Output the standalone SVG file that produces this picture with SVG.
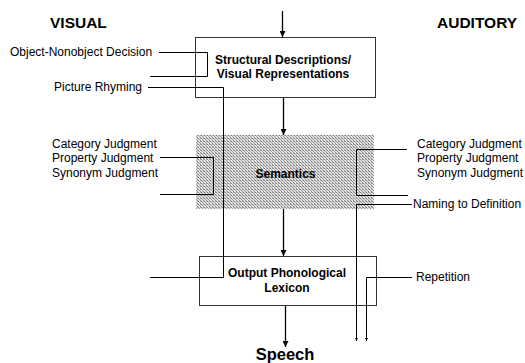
<svg xmlns="http://www.w3.org/2000/svg" width="525" height="363" viewBox="0 0 525 363">
<defs>
<pattern id="halftone" width="3" height="3" patternUnits="userSpaceOnUse">
<rect width="3" height="3" fill="#e4e4e4"/>
<rect x="0" y="0" width="1" height="1" fill="#7a7a7a"/>
<rect x="1" y="1" width="1" height="1" fill="#9a9a9a"/>
<rect x="2" y="2" width="1" height="1" fill="#8a8a8a"/>
<rect x="2" y="0" width="1" height="1" fill="#b0b0b0"/>
</pattern>
<marker id="arr" viewBox="0 0 8 8" refX="8" refY="4" markerWidth="6" markerHeight="6" markerUnits="userSpaceOnUse" orient="auto">
<path d="M0,0 L8,4 L0,8 Z" fill="#000"/>
</marker>
<marker id="tick" viewBox="0 0 6 6" refX="6" refY="3" markerWidth="3" markerHeight="3" markerUnits="userSpaceOnUse" orient="auto">
<path d="M0,0 L6,3 L0,6 Z" fill="#000"/>
</marker>
</defs>
<style>
.box{fill:#fff;stroke:#333;stroke-width:1}
.bt{font-family:"Liberation Sans",Arial,sans-serif;font-weight:bold;font-size:12px;fill:#000;text-anchor:middle}
.lbl{font-family:"Liberation Sans",Arial,sans-serif;font-size:12px;fill:#000}
.hd{font-family:"Liberation Sans",Arial,sans-serif;font-weight:bold;font-size:15.5px;fill:#000}
.ln{fill:none;stroke:#000;stroke-width:1}
.main{fill:none;stroke:#000;stroke-width:1.3}
</style>
<rect width="525" height="363" fill="#fff"/>
<text class="hd" x="50" y="28">VISUAL</text>
<text class="hd" x="437" y="28">AUDITORY</text>

<g id="structural">
<rect class="box" x="195.5" y="37.5" width="180" height="60"/>
<text class="bt" x="283" y="64">Structural Descriptions/</text>
<text class="bt" x="283" y="78">Visual Representations</text>
</g>
<g id="semantics">
<rect x="196" y="135" width="178" height="74" fill="url(#halftone)"/>
<text class="bt" x="285.5" y="178">Semantics</text>
</g>
<g id="output">
<rect class="box" x="199.5" y="256.5" width="177" height="49"/>
<text class="bt" x="287" y="277">Output Phonological</text>
<text class="bt" x="287" y="292">Lexicon</text>
</g>
<g id="speech">
<text class="bt" x="285" y="360" style="font-size:16.5px">Speech</text>
</g>
<g id="labels">
<text class="lbl" x="10" y="56">Object-Nonobject Decision</text>
<text class="lbl" x="54" y="91">Picture Rhyming</text>
<text class="lbl" x="52" y="147.5">Category Judgment</text>
<text class="lbl" x="52" y="162">Property Judgment</text>
<text class="lbl" x="52" y="176.5">Synonym Judgment</text>
<text class="lbl" x="417" y="147.5">Category Judgment</text>
<text class="lbl" x="417" y="162">Property Judgment</text>
<text class="lbl" x="417" y="176.5">Synonym Judgment</text>
<text class="lbl" x="413" y="208">Naming to Definition</text>
<text class="lbl" x="416" y="281">Repetition</text>
</g>
<g id="connectors">
<path class="main" d="M282.5 11 V37" marker-end="url(#arr)"/>
<path class="main" d="M283.5 98 V135" marker-end="url(#arr)"/>
<path class="main" d="M283.5 209 V256" marker-end="url(#arr)"/>
<path class="main" d="M285.5 306 V347" marker-end="url(#arr)"/>
<path class="ln" d="M159 52.5 H207.5 V76.5 H150"/>
<path class="ln" d="M148 87.5 H223.5 V277.5 H150"/>
<path class="ln" d="M160 157.5 H213.5 V194.5 H160"/>
<path class="ln" d="M407 149.5 H356.5 V195.5 H408"/>
<path class="ln" d="M412 204.5 H356.5 V341" marker-end="url(#tick)"/>
<path class="ln" d="M412 277.5 H366.5 V341" marker-end="url(#tick)"/>
</g>
</svg>
